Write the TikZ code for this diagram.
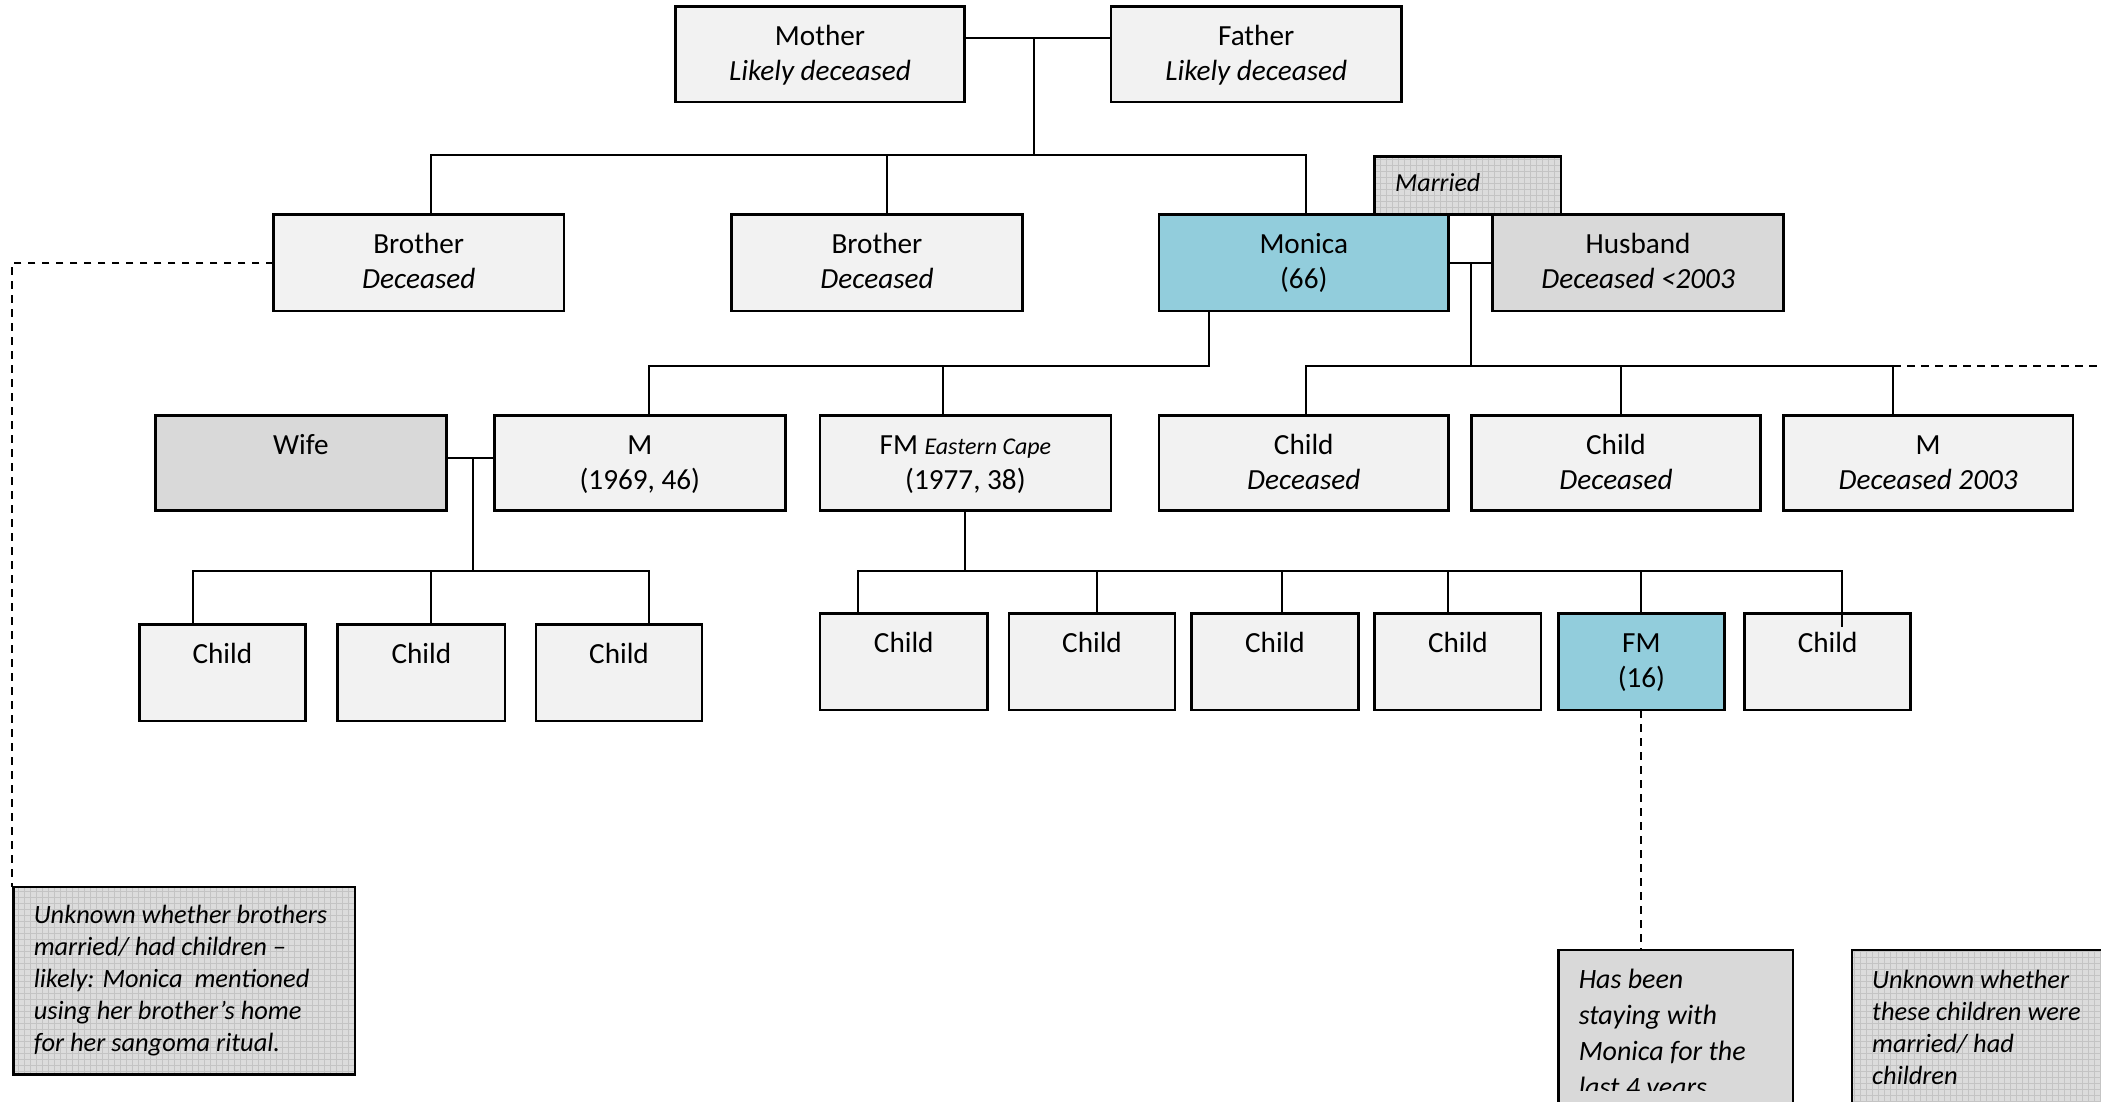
\documentclass[tikz,border=0pt]{standalone}
\usepackage{fontspec}
\setmainfont{Carlito}
\usetikzlibrary{patterns}

\definecolor{boxfill}{HTML}{F2F2F2}
\definecolor{bluefill}{HTML}{92CDDC}
\definecolor{grayfill}{HTML}{D9D9D9}
\definecolor{notefill}{HTML}{DCDCDC}
\definecolor{gridcol}{HTML}{C4C4C4}

\tikzset{
  famrect/.style={draw=black, line width=1.3pt, inner sep=0pt, outer sep=0pt},
  kin/.style={famrect, fill=boxfill},
  focal/.style={famrect, fill=bluefill},
  inlaw/.style={famrect, fill=grayfill},
  memo/.style={famrect, preaction={fill=notefill}, pattern=grid, pattern color=gridcol},
  conn/.style={line width=1pt},
  hint/.style={line width=1pt, dash pattern=on 3.7pt off 3.3pt},
  boxtext/.style={font=\fontsize{14.6}{17.5}\selectfont, align=center, anchor=north,
    inner sep=0pt, yshift=-7.2pt},
  memotext/.style={font=\fontsize{13.2}{16}\selectfont\itshape, align=left,
    anchor=north west, inner sep=0pt},
}

% box: name, x1, y1, x2, y2, style, text (top aligned, centred)
\newcommand\famnode[7]{%
  \node[#6, minimum width={(#4-#2)*0.67pt}, minimum height={(#5-#3)*0.67pt}]
    (#1) at ({(#2+#4)/2},{(#3+#5)/2}) {};
  \node[boxtext] (#1-t) at (#1.north) {\strut #7};}

\begin{document}
\begin{tikzpicture}[x=0.67pt, y=-0.67pt]
\useasboundingbox (0,0) rectangle (1568,822);
\clip (0,0) rectangle (1568,822);
\fill[white] (0,0) rectangle (1568,822);

% ---- parents ----
\famnode{mother}{504}{5}{720}{76}{kin}{Mother\\\textit{Likely deceased}}
\famnode{father}{829}{5}{1046}{76}{kin}{Father\\\textit{Likely deceased}}

% ---- siblings ----
\famnode{bro1}{204}{160}{421}{232}{kin}{Brother\\\textit{Deceased}}
\famnode{bro2}{546}{160}{763}{232}{kin}{Brother\\\textit{Deceased}}
\node[memo, minimum width={139*0.67pt}, minimum height={43*0.67pt}]
  (married) at ({(1026+1165)/2},{(117+160)/2}) {};
\node[anchor=base west, inner sep=0pt, font=\fontsize{13}{15}\selectfont\itshape]
  (married-t) at ([xshift=10pt, yshift=-17.4pt]married.north west) {Married};
\famnode{monica}{865}{160}{1081}{232}{focal}{Monica\\(66)}
\famnode{husband}{1114}{160}{1331}{232}{inlaw}{Husband\\\textit{Deceased <2003}}

% ---- children of Monica ----
\famnode{wife}{116}{310}{333}{381}{inlaw}{Wife}
\famnode{m1}{369}{310}{586}{381}{kin}{M\\(1969, 46)}
\famnode{fm1}{612}{310}{829}{381}{kin}{FM {\fontsize{12}{14}\selectfont\itshape Eastern Cape}\\(1977, 38)}
\famnode{c1}{865}{310}{1081}{381}{kin}{Child\\\textit{Deceased}}
\famnode{c2}{1098}{310}{1314}{381}{kin}{Child\\\textit{Deceased}}
\famnode{m2}{1331}{310}{1547}{381}{kin}{M\\\textit{Deceased 2003}}

% ---- grandchildren through M ----
\famnode{ga}{104}{466}{228}{538}{kin}{Child}
\famnode{gb}{252}{466}{377}{538}{kin}{Child}
\famnode{gc}{400}{466}{524}{538}{kin}{Child}

% ---- grandchildren through FM ----
\famnode{ka}{612}{458}{737}{530}{kin}{Child}
\famnode{kb}{753}{458}{877}{530}{kin}{Child}
\famnode{kc}{889}{458}{1014}{530}{kin}{Child}
\famnode{kd}{1026}{458}{1150}{530}{kin}{Child}
\famnode{fm16}{1163}{458}{1287}{530}{focal}{FM\\(16)}
\famnode{kf}{1302}{458}{1426}{530}{kin}{Child}

% ---- notes ----
\node[memo, minimum width={255*0.67pt}, minimum height={140*0.67pt}]
  (lnote) at ({(10+265)/2},{(662+802)/2}) {};
\node[memotext] (lnote-t) at ([xshift=10pt, yshift=-6.9pt]lnote.north west)
  {\strut Unknown whether brothers\\married/ had children --\\likely: Monica\ \ mentioned\\using her brother’s home\\for her sangoma ritual.};

\node[famrect, fill=grayfill, minimum width={175*0.67pt}, minimum height={140*0.67pt}]
  (fmnote) at ({(1163+1338)/2},{(709+849)/2}) {};
\coordinate (fmclip) at (1338,813.5);
\begin{scope}
  \clip (fmnote.north west) rectangle (fmclip);
  \node[memotext, font=\fontsize{14}{18}\selectfont\itshape] (fmnote-t)
    at ([xshift=10pt, yshift=-6.2pt]fmnote.north west)
    {\strut Has been\\staying with\\Monica for the\\last 4 years};
\end{scope}

\node[memo, minimum width={220*0.67pt}, minimum height={140*0.67pt}]
  (rnote) at ({(1382+1602)/2},{(709+849)/2}) {};
\node[memotext] (rnote-t) at ([xshift=10pt, yshift=-7.6pt]rnote.north west)
  {\strut Unknown whether\\these children were\\married/ had\\children};

% ---- connectors: parents ----
\coordinate (pm) at (772,28);
\coordinate (sibbar) at (772,116);
\coordinate (sb1) at (322,116);
\coordinate (sb2) at (662,116);
\coordinate (sb3) at (975,116);
\draw[conn] (mother.east |- pm) -- (father.west |- pm);
\draw[conn] (pm) -- (sibbar);
\draw[conn] (sb1 |- bro1.north) -- (sb1) -- (sb3) -- (sb3 |- monica.north);
\draw[conn] (sb2) -- (sb2 |- bro2.north);

% ---- Monica and husband ----
\coordinate (mh) at (1098,196);
\coordinate (hb) at (1098,273);
\coordinate (hb1) at (975,273);
\coordinate (hb2) at (1210,273);
\coordinate (hb3) at (1413,273);
\coordinate (hbend) at (1568,273);
\draw[conn] (monica.east |- mh) -- (husband.west |- mh);
\draw[conn] (mh) -- (hb);
\draw[conn] (hb1 |- c1.north) -- (hb1) -- (hb3) -- (hb3 |- m2.north);
\draw[conn] (hb2) -- (hb2 |- c2.north);
\draw[hint] (hb3) -- (hbend);

% ---- Monica's earlier children ----
\coordinate (mk) at (902,273);
\coordinate (mk1) at (484,273);
\coordinate (mk2) at (704,273);
\draw[conn] (mk |- monica.south) -- (mk) -- (mk1) -- (mk1 |- m1.north);
\draw[conn] (mk2) -- (mk2 |- fm1.north);

% ---- wife and M ----
\coordinate (wm) at (353,342);
\coordinate (wmb) at (353,426);
\coordinate (wb1) at (144,426);
\coordinate (wb2) at (322,426);
\coordinate (wb3) at (484,426);
\draw[conn] (wife.east |- wm) -- (m1.west |- wm);
\draw[conn] (wm) -- (wmb);
\draw[conn] (wb1 |- ga.north) -- (wb1) -- (wb3) -- (wb3 |- gc.north);
\draw[conn] (wb2) -- (wb2 |- gb.north);

% ---- FM's children ----
\coordinate (fk) at (720,426);
\coordinate (fb1) at (640,426);
\coordinate (fb2) at (819,426);
\coordinate (fb3) at (957,426);
\coordinate (fb4) at (1081,426);
\coordinate (fb5) at (1225,426);
\coordinate (fb6) at (1375,426);
\coordinate (fb6in) at (1375,468);
\draw[conn] (fk |- fm1.south) -- (fk);
\draw[conn] (fb1 |- ka.north) -- (fb1) -- (fb6) -- (fb6in);
\draw[conn] (fb2) -- (fb2 |- kb.north);
\draw[conn] (fb3) -- (fb3 |- kc.north);
\draw[conn] (fb4) -- (fb4 |- kd.north);
\draw[conn] (fb5) -- (fb5 |- fm16.north);

% ---- dashed links to notes ----
\coordinate (lcorner) at (9,196);
\draw[hint] (bro1.west) -- (lcorner) -- (lcorner |- lnote.north);
\draw[hint] (fm16.south) -- (fm16.south |- fmnote.north);
\end{tikzpicture}
\end{document}
